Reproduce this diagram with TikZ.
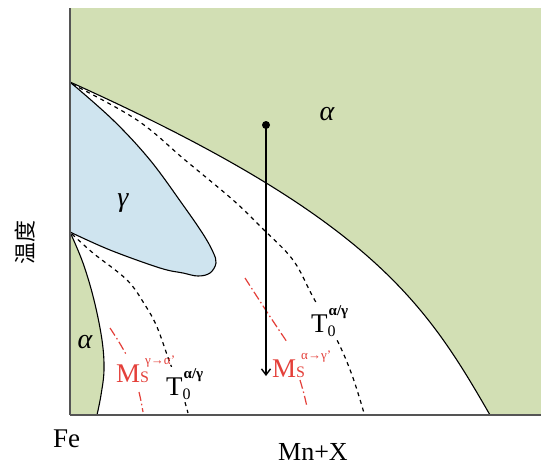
\documentclass[tikz,border=0pt]{standalone}
\usepackage{fontspec}
\setmainfont{Liberation Serif}
\newfontfamily\cjk{Noto Sans CJK SC}
\usetikzlibrary{arrows.meta}
\definecolor{phgreen}{HTML}{D2DFB4}
\definecolor{phblue}{HTML}{CFE4EF}
\definecolor{phred}{HTML}{E4403A}
\definecolor{axgray}{HTML}{555555}
\newcommand\Tlab{T\rlap{\raisebox{-4pt}{\fontsize{16}{16}\selectfont 0}}\hspace{1pt}\raisebox{17pt}{\fontsize{15}{15}\selectfont\bfseries α/γ}}
\newcommand\Mlab[1]{M\rlap{\fontsize{16}{16}\selectfont S}\hspace{5pt}\raisebox{18pt}{\fontsize{13}{13}\selectfont #1}}
\begin{document}
\begin{tikzpicture}[x=1pt,y=-1pt,
  phline/.style={line width=1.1pt, draw=black},
  tdash/.style={line width=1.2pt, draw=black, dash pattern=on 4pt off 4pt},
  msline/.style={line width=1.2pt, draw=phred, dash pattern=on 9pt off 3pt on 1.5pt off 3pt},
  biglab/.style={font=\fontsize{28}{30}\selectfont\itshape, inner sep=0pt},
  tlab/.style={font=\fontsize{27}{30}\selectfont, anchor=base west, fill=white, inner sep=1pt},
  mlab/.style={font=\fontsize{27}{30}\selectfont, text=phred, anchor=base west, inner sep=1pt},
  axis/.style={line width=1.6pt, draw=axgray}]
\useasboundingbox (0,0) rectangle (541,466);
% alpha background
\fill[phgreen] (70,8) rectangle (541,415);
% two-phase (white) region
\fill[white] (70,82) .. controls (370,217) and (425,302) .. (490,415)
  -- plot[smooth, tension=0.6] coordinates {(97,415) (101,395) (104,370) (102,340) (94,300) (83,263) (70,232)} -- cycle;
% phase boundaries
\draw[phline] (70,82) .. controls (370,217) and (425,302) .. (490,415);
\draw[phline] plot[smooth, tension=0.6] coordinates {(70,232) (83,263) (94,300) (102,340) (104,370) (101,395) (97,415)};
% gamma loop
\filldraw[phline, fill=phblue] plot[smooth, tension=0.6] coordinates {(70,82) (113,120) (150,160) (183,205) (203,234) (213,252) (216,263) (210,273) (198,276) (183,273) (160,268) (110,250) (70,232)} -- cycle;
% T0 lines
\draw[tdash] plot[smooth, tension=0.6] coordinates {(72,84) (137,120) (185,160) (233,200) (262,228) (293,260) (313,297) (337,340) (352,375) (364,413)};
\draw[tdash] plot[smooth, tension=0.6] coordinates {(72,234) (93,253) (127,280) (145,305) (157,327) (170,363) (182,393) (188,413)};
% Ms lines (with gaps for the labels)
\draw[msline] plot[smooth, tension=0.6] coordinates {(110,328) (119,342) (127,356)};
\draw[msline] plot[smooth, tension=0.6] coordinates {(139,392) (141,401) (143,412)};
\draw[msline] plot[smooth, tension=0.6] coordinates {(245,278) (267,312) (287,342)};
\draw[msline] plot[smooth, tension=0.6] coordinates {(300,380) (304,394) (307,407)};
% axes
\draw[axis] (70,8) -- (70,415);
\draw[axis] (70,415) -- (541,415);
% cooling path
\node[circle, fill=black, inner sep=0pt, minimum size=8pt] (dot) at (266,125) {};
\coordinate (arrowend) at (266,376);
\draw[line width=1.6pt, -{Straight Barb[length=6pt, width=9pt, line width=1.4pt]}] (dot.center) -- (arrowend);
% labels
\node[tlab] (t0a) at (310,332) {\Tlab};
\node[tlab] (t0b) at (165,395) {\Tlab};
\node[mlab] (msa) at (271,377) {\Mlab{α→γ'}};
\node[mlab] (msb) at (115,382) {\Mlab{γ→α'}};
\node[biglab] (alphatop) at (327,114) {α};
\node[biglab] (alphalow) at (85,342) {α};
\node[biglab] (gam) at (123,203) {γ};
\node[font=\fontsize{27}{30}\selectfont, anchor=base west, inner sep=0pt] (fe) at (53,447) {Fe};
\node[font=\fontsize{26}{28}\selectfont, anchor=base west, inner sep=0pt] (mnx) at (278,460) {Mn+X};
\node[font=\cjk\fontsize{22}{24}\selectfont, rotate=90, inner sep=0pt] (temp) at (25,242) {温度};
\end{tikzpicture}
\end{document}
